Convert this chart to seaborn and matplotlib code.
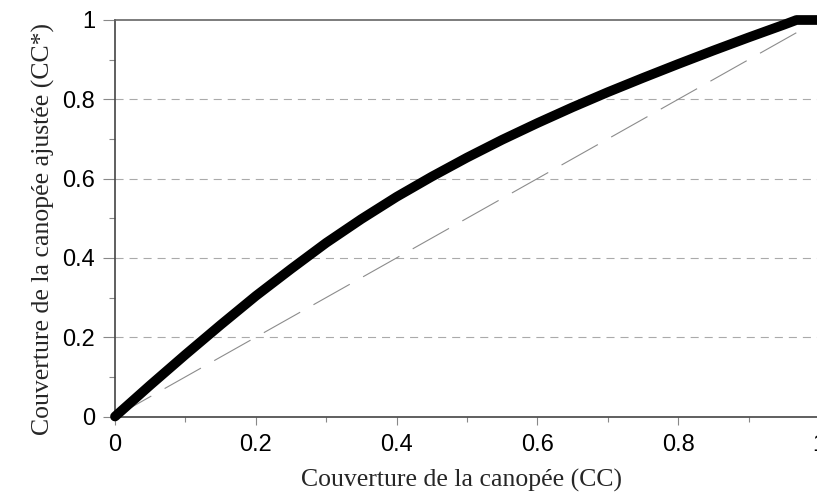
import matplotlib
matplotlib.use("Agg")
import matplotlib.pyplot as plt
import seaborn as sns
import pandas as pd
from matplotlib.ticker import MultipleLocator, FuncFormatter

# Data
cc = [0, 0.05, 0.1, 0.15, 0.2, 0.25, 0.3, 0.35, 0.4, 0.45, 0.5, 0.55, 0.6,
      0.65, 0.7, 0.75, 0.8, 0.85, 0.9, 0.95, 0.968, 1.0]
cc_adj = [0, 0.079, 0.156, 0.231, 0.304, 0.372, 0.438, 0.498, 0.554, 0.605, 0.653, 0.698, 0.74,
          0.78, 0.818, 0.854, 0.889, 0.923, 0.956, 0.988, 1.0, 1.0]
diag_x = [0, 0.97]
diag_y = [0, 0.97]

x_ticks = [0, 0.2, 0.4, 0.6, 0.8, 1.0]
y_ticks = [0, 0.2, 0.4, 0.6, 0.8, 1.0]

sns.set_style("white")
plt.rcParams['lines.scale_dashes'] = False

fig = plt.figure(figsize=(8.17, 4.97), dpi=100)
ax = fig.add_axes([115/817, 80.5/497, 704/817, 396.5/497])

df_curve = pd.DataFrame({"CC": cc, "CCadj": cc_adj})
df_diag = pd.DataFrame({"CC": diag_x, "CCadj": diag_y})

# gridlines
for yv in y_ticks[1:-1]:
    ax.axhline(yv, color="#aaaaaa", lw=0.8, linestyle=(0, (5.8, 4.3)), zorder=1)

sns.lineplot(data=df_diag, x="CC", y="CCadj", ax=ax, color="#8c8c8c", lw=0.8,
             linestyle=(0, (30, 11)), zorder=2)
sns.lineplot(data=df_curve, x="CC", y="CCadj", ax=ax, color="black", lw=7,
             solid_capstyle="round", solid_joinstyle="round", zorder=3, clip_on=False)

ax.set_xlim(0, 1)
ax.set_ylim(0, 1)
ax.set_xticks(x_ticks)
ax.set_yticks(y_ticks)
fmt = FuncFormatter(lambda v, p: "0" if v == 0 else ("1" if v == 1 else f"{v:.1f}"))
ax.xaxis.set_major_formatter(fmt)
ax.yaxis.set_major_formatter(fmt)
ax.xaxis.set_minor_locator(MultipleLocator(0.1))
ax.yaxis.set_minor_locator(MultipleLocator(0.1))

ax.tick_params(axis="x", which="major", direction="out", length=5.8, width=0.8,
               color="#888888", pad=7, labelsize=17, labelcolor="black", bottom=True)
ax.tick_params(axis="x", which="minor", direction="out", length=3.6, width=0.8,
               color="#888888", bottom=True)
ax.tick_params(axis="y", which="major", direction="out", length=8.4, width=0.8,
               color="#888888", pad=6, labelsize=17, labelcolor="black", left=True)
ax.tick_params(axis="y", which="minor", direction="out", length=4.3, width=0.8,
               color="#888888", left=True)
for lab in ax.get_xticklabels() + ax.get_yticklabels():
    lab.set_fontfamily("Liberation Sans")

for s in ["left", "bottom", "top", "right"]:
    ax.spines[s].set_visible(True)
    ax.spines[s].set_color("#444444")
    ax.spines[s].set_linewidth(1.2)
ax.spines["top"].set_color("#666666")

ax.set_xlabel("Couverture de la canopée (CC)", fontsize=18.5, family="Liberation Serif")
ax.set_ylabel("Couverture de la canopée ajustée (CC*)", fontsize=18.5, family="Liberation Serif")
ax.xaxis.set_label_coords(0.4925, -0.132)
ax.yaxis.set_label_coords(-0.085, 0.473)

ax.grid(False)
fig.savefig("out.png", dpi=100)
